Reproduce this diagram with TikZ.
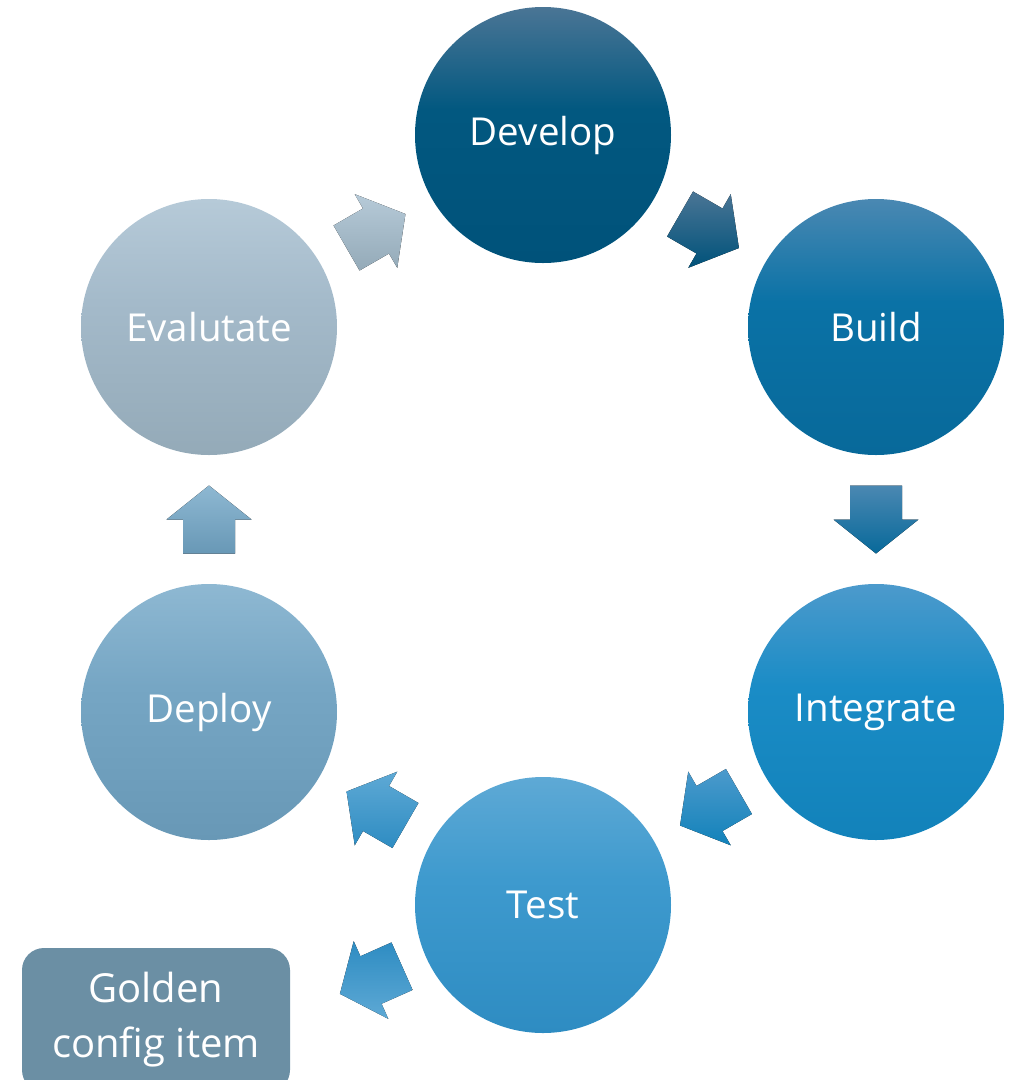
\documentclass[tikz,border=0pt]{standalone}
\usepackage{fontspec}
\setmainfont{Open Sans}
\usetikzlibrary{calc}

% colour triples for each stage (light top, mid, dark bottom)
\definecolor{devT}{HTML}{4A7595}\definecolor{devM}{HTML}{025880}\definecolor{devB}{HTML}{00527A}
\definecolor{bldT}{HTML}{4A88B2}\definecolor{bldM}{HTML}{0A72A6}\definecolor{bldB}{HTML}{08699A}
\definecolor{intT}{HTML}{4C9ACC}\definecolor{intM}{HTML}{1A8CC6}\definecolor{intB}{HTML}{1282BA}
\definecolor{tstT}{HTML}{5EA9D5}\definecolor{tstM}{HTML}{3E9ACE}\definecolor{tstB}{HTML}{2E8CC2}
\definecolor{depT}{HTML}{8EB8D2}\definecolor{depM}{HTML}{76A6C4}\definecolor{depB}{HTML}{6898B6}
\definecolor{evaT}{HTML}{B6CAD8}\definecolor{evaM}{HTML}{A4BACA}\definecolor{evaB}{HTML}{94AAB8}
\definecolor{gold}{HTML}{6B8FA4}

% vertical shadings: the light tone fades out within the upper part of the shape
\newcommand\stageshading[1]{%
  \pgfdeclareverticalshading{#1fade}{100bp}{%
    color(0bp)=(#1B); color(25bp)=(#1B); color(55bp)=(#1M);
    color(75bp)=(#1T); color(100bp)=(#1T)}}
\stageshading{dev}\stageshading{bld}\stageshading{int}
\stageshading{tst}\stageshading{dep}\stageshading{eva}

\tikzset{
  stage/.style={circle, minimum size=256pt, inner sep=0pt,
    shading=#1fade, text=white,
    font=\fontsize{38.5}{46}\selectfont},
  flowarrow/.style 2 args={top color=#1, bottom color=#2, draw=none},
}

% block arrow centred at #1, pointing at angle #2 (degrees), shaded #3 (top) -> #4 (bottom)
\newcommand\blockarrow[4]{%
  \begin{scope}[shift={(#1)}, rotate=#2]
    \fill[flowarrow={#3}{#4}]
      (-34,-26) -- (0,-26) -- (0,-42.5) -- (34,0) -- (0,42.5) -- (0,26) -- (-34,26) -- cycle;
  \end{scope}}

\begin{document}
\begin{tikzpicture}[x=1pt, y=-1pt]
  \useasboundingbox (0,0) rectangle (1017,1080);

  \node[stage=dev] (dev) at (543,135) {Develop};
  \node[stage=bld] (bld) at (876,327) {Build};
  \node[stage=int] (int) at (876,712) {Integrate};
  \node[stage=tst] (tst) at (543,905) {Test};
  \node[stage=dep] (dep) at (209,712) {Deploy};
  \node[stage=eva] (eva) at (209,327) {Evalutate};

  % golden configuration item box, running off the lower edge
  \begin{scope}
    \clip (0,0) rectangle (1017,1080);
    \node[fill=gold, rounded corners=22pt, minimum width=268pt, minimum height=144pt,
          text=white, align=center, inner sep=0pt,
          font=\fontsize{40}{55}\selectfont] (gci) at (156,1020) {Golden\\config item};
  \end{scope}

  % cycle arrows between neighbouring stages
  \blockarrow{$(eva)!0.5!(dev)$}{30}{evaT}{evaB}
  \blockarrow{$(dev)!0.5!(bld)$}{-30}{devT}{devB}
  \blockarrow{$(bld)!0.5!(int)$}{-90}{bldT}{bldB}
  \blockarrow{$(int)!0.5!(tst)$}{210}{intT}{intB}
  \blockarrow{$(tst)!0.5!(dep)$}{150}{tstT}{tstB}
  \blockarrow{$(dep)!0.5!(eva)$}{90}{depT}{depB}

  % arrow from Test out to the golden item
  \coordinate (gold-arrow) at (371,980);
  \blockarrow{gold-arrow}{204}{tstB}{tstT}
\end{tikzpicture}
\end{document}
